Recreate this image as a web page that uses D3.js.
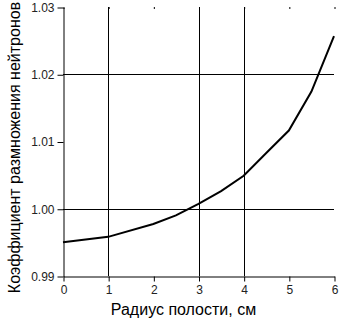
<!DOCTYPE html>
<html>
<head>
<meta charset="utf-8">
<script src="https://cdn.jsdelivr.net/npm/d3@7"></script>
<style>
  body { margin: 0; background: #fff; }
  text { font-family: "Liberation Sans", Arial, sans-serif; }
</style>
</head>
<body>
<script>
// radius of cavity, cm -> neutron multiplication factor
const radius = [0, 1, 2, 2.5, 3, 3.5, 4, 4.5, 5, 5.5, 6];
const kFactor = [0.99502, 0.99582, 0.99774, 0.99902, 1.00073, 1.00261, 1.00491, 1.00828, 1.01163, 1.01742, 1.02568];
const xTicks = [0, 1, 2, 3, 4, 5, 6];
const yTicks = [0.99, 1.00, 1.01, 1.02, 1.03];
const xGrid = [1, 3, 4];
const yGrid = [1.00, 1.02];

const w = 339, h = 321;
const m = {left: 63, right: 5, top: 7, bottom: 45};

const svg = d3.select("body").append("svg")
  .attr("width", w)
  .attr("height", h);

const xScale = d3.scaleLinear().domain([0, 6]).range([m.left, w - m.right]);
const yScale = d3.scaleLinear().domain([0.99, 1.03]).range([h - m.bottom, m.top]);

// grid
svg.append("g").selectAll("line")
  .data(xGrid).enter().append("line")
  .attr("x1", d => Math.round(xScale(d)) + 0.5)
  .attr("x2", d => Math.round(xScale(d)) + 0.5)
  .attr("y1", yScale(1.03))
  .attr("y2", yScale(0.99))
  .attr("stroke", "#000");

svg.append("g").selectAll("line")
  .data(yGrid).enter().append("line")
  .attr("x1", xScale(0))
  .attr("x2", xScale(6))
  .attr("y1", d => Math.round(yScale(d)) + 0.5)
  .attr("y2", d => Math.round(yScale(d)) + 0.5)
  .attr("stroke", "#000");

// top small ticks
const topAxis = svg.append("g")
  .attr("transform", `translate(0.5, ${m.top})`)
  .call(d3.axisBottom(xScale).tickValues(xTicks).tickSize(2).tickFormat(""));
topAxis.select(".domain").remove();

const xAxis = svg.append("g")
  .attr("transform", `translate(0.5, ${Math.round(yScale(0.99)) + 0.5})`)
  .call(d3.axisBottom(xScale).tickValues(xTicks).tickSize(5).tickPadding(4).tickSizeOuter(0).tickFormat(d3.format("d")));

const yAxis = svg.append("g")
  .attr("transform", `translate(${m.left + 0.5}, 0.5)`)
  .call(d3.axisLeft(yScale).tickValues(yTicks).tickSize(6).tickPadding(3).tickSizeOuter(0).tickFormat(d3.format(".2f")));

[xAxis, yAxis].forEach(g => {
  g.selectAll("path, line").attr("stroke", "#000");
  g.selectAll("text").attr("font-size", 12).attr("fill", "#222")
    .style("font-family", "'Liberation Sans', Arial, sans-serif");
});

// curve
const line = d3.line()
  .x((d, i) => xScale(radius[i]))
  .y(d => yScale(d));

svg.append("path")
  .datum(kFactor)
  .attr("d", line)
  .attr("fill", "none")
  .attr("stroke", "#000")
  .attr("stroke-width", 2);

// titles
svg.append("text")
  .attr("x", 183.5)
  .attr("y", 315)
  .attr("text-anchor", "middle")
  .attr("font-size", 16)
  .attr("fill", "#000")
  .text("Радиус полости, см");

svg.append("text")
  .attr("transform", "translate(20, 147.5) rotate(-90)")
  .attr("text-anchor", "middle")
  .attr("font-size", 16)
  .attr("fill", "#000")
  .text("Коэффициент размножения нейтронов");
</script>
</body>
</html>
